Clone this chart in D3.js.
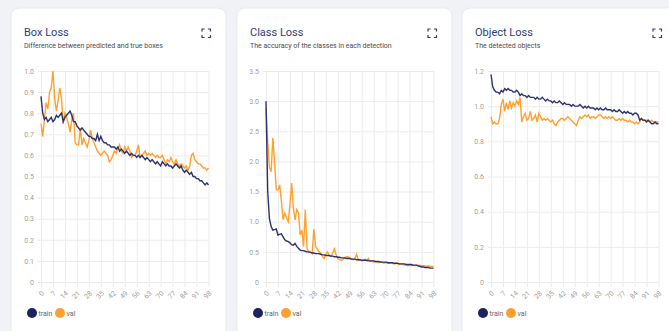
<!DOCTYPE html>
<html>
<head>
<meta charset="utf-8">
<script src="https://cdn.jsdelivr.net/npm/d3@7"></script>
<style>
  body { margin: 0; background: #f1f2f6; font-family: Roboto, "Open Sans", sans-serif; }
</style>
</head>
<body>
<div id="losses"></div>
<script>
// DATA (epochs 0..98)
const xTicks = [0, 7, 14, 21, 28, 35, 42, 49, 56, 63, 70, 77, 84, 91, 98]

const boxTrain = [0.88,0.80,0.77,0.78,0.76,0.77,0.78,0.76,0.77,0.79,
  0.78,0.79,0.80,0.76,0.78,0.79,0.80,0.81,0.79,0.76,
  0.76,0.74,0.73,0.72,0.73,0.72,0.71,0.70,0.69,0.69,
  0.68,0.68,0.67,0.70,0.67,0.69,0.67,0.66,0.66,0.65,
  0.65,0.64,0.64,0.64,0.63,0.64,0.62,0.63,0.62,0.61,
  0.62,0.61,0.60,0.61,0.60,0.60,0.59,0.60,0.59,0.60,
  0.59,0.58,0.59,0.58,0.57,0.58,0.57,0.56,0.57,0.56,
  0.55,0.57,0.56,0.55,0.56,0.55,0.55,0.54,0.55,0.56,
  0.55,0.54,0.55,0.53,0.52,0.53,0.52,0.51,0.52,0.50,
  0.50,0.49,0.49,0.48,0.48,0.47,0.46,0.47,0.46]
const boxVal = [0.75,0.69,0.77,0.85,0.82,0.90,0.92,1.00,0.87,0.81,
  0.86,0.92,0.87,0.75,0.80,0.78,0.75,0.71,0.77,0.80,
  0.66,0.65,0.65,0.73,0.65,0.68,0.66,0.64,0.67,0.72,
  0.68,0.66,0.64,0.62,0.61,0.60,0.61,0.62,0.61,0.60,
  0.57,0.58,0.60,0.62,0.61,0.63,0.65,0.62,0.61,0.64,
  0.62,0.64,0.62,0.59,0.60,0.60,0.62,0.65,0.59,0.60,
  0.61,0.62,0.60,0.61,0.60,0.61,0.60,0.59,0.60,0.59,
  0.59,0.60,0.58,0.56,0.58,0.57,0.59,0.57,0.56,0.58,
  0.56,0.55,0.56,0.55,0.54,0.55,0.53,0.55,0.60,0.61,
  0.58,0.57,0.56,0.56,0.55,0.54,0.54,0.53,0.54]

const classTrain = [3.00,1.50,1.05,0.92,0.86,0.87,0.88,0.78,0.79,0.80,
  0.75,0.70,0.68,0.67,0.65,0.62,0.61,0.64,0.59,0.56,
  0.53,0.52,0.52,0.51,0.50,0.50,0.49,0.48,0.48,0.47,
  0.47,0.47,0.46,0.45,0.45,0.44,0.44,0.44,0.43,0.43,
  0.42,0.42,0.41,0.41,0.40,0.40,0.40,0.39,0.39,0.39,
  0.38,0.38,0.38,0.37,0.37,0.37,0.36,0.36,0.36,0.36,
  0.35,0.35,0.35,0.35,0.34,0.34,0.34,0.33,0.33,0.33,
  0.33,0.32,0.32,0.32,0.32,0.31,0.31,0.31,0.30,0.30,
  0.30,0.30,0.29,0.29,0.29,0.29,0.28,0.28,0.28,0.27,
  0.26,0.25,0.25,0.24,0.24,0.24,0.23,0.23,0.23]
const classVal = [2.88,2.33,1.90,1.83,2.39,2.00,1.53,1.53,1.61,1.34,
  1.03,1.14,1.06,1.00,1.28,1.64,1.23,1.03,1.20,1.15,
  0.78,0.86,0.59,1.20,0.56,0.50,0.50,0.47,0.88,0.59,
  0.55,0.50,0.48,0.42,0.39,0.46,0.50,0.44,0.42,0.48,
  0.55,0.45,0.39,0.37,0.36,0.37,0.40,0.42,0.42,0.40,
  0.38,0.37,0.39,0.46,0.36,0.37,0.35,0.36,0.38,0.35,
  0.39,0.34,0.35,0.33,0.34,0.33,0.32,0.34,0.33,0.31,
  0.32,0.33,0.31,0.32,0.31,0.30,0.31,0.30,0.29,0.30,
  0.29,0.28,0.28,0.27,0.28,0.27,0.28,0.27,0.28,0.27,
  0.28,0.27,0.27,0.27,0.26,0.27,0.26,0.26,0.26]

const objTrain = [1.18,1.11,1.09,1.08,1.08,1.07,1.09,1.08,1.10,1.09,
  1.10,1.09,1.09,1.08,1.08,1.09,1.08,1.06,1.07,1.06,
  1.06,1.05,1.06,1.05,1.05,1.05,1.04,1.05,1.04,1.04,
  1.05,1.04,1.03,1.04,1.03,1.03,1.02,1.03,1.02,1.02,
  1.03,1.02,1.01,1.02,1.01,1.01,1.01,1.00,1.01,1.00,
  1.00,1.00,1.01,1.00,0.99,1.00,0.99,1.00,0.99,0.99,
  0.99,0.98,0.99,0.98,0.99,0.98,0.98,0.99,0.98,0.98,
  0.98,0.97,0.98,0.97,0.97,0.98,0.97,0.96,0.97,0.96,
  0.97,0.96,0.96,0.95,0.96,0.96,0.95,0.92,0.93,0.92,
  0.92,0.91,0.92,0.91,0.90,0.90,0.91,0.90,0.90]
const objVal = [0.94,0.90,0.91,0.90,0.90,0.93,1.01,1.04,0.97,1.02,
  0.98,1.03,0.99,1.02,1.00,1.03,1.01,1.05,0.91,0.94,
  0.96,0.92,0.93,0.97,0.92,0.93,0.95,0.91,0.96,0.94,
  0.92,0.93,0.92,0.93,0.92,0.91,0.92,0.90,0.89,0.91,
  0.92,0.93,0.93,0.92,0.93,0.94,0.93,0.92,0.91,0.90,
  0.89,0.92,0.94,0.93,0.94,0.95,0.94,0.95,0.93,0.94,
  0.94,0.93,0.94,0.95,0.95,0.94,0.93,0.94,0.93,0.94,
  0.93,0.94,0.93,0.92,0.92,0.93,0.92,0.93,0.92,0.92,
  0.91,0.92,0.91,0.91,0.90,0.91,0.90,0.91,0.93,0.92,
  0.92,0.92,0.92,0.91,0.92,0.91,0.91,0.91,0.91]

const boxTicks = [0, 0.1, 0.2, 0.3, 0.4, 0.5, 0.6, 0.7, 0.8, 0.9, 1.0]
const classTicks = [0, 0.5, 1.0, 1.5, 2.0, 2.5, 3.0, 3.5]
const objTicks = [0, 0.2, 0.4, 0.6, 0.8, 1.0, 1.2]

const legendData = ["train", "val"]
const color = d3.scaleOrdinal()
  .domain(legendData)
  .range(["#2b3170", "#ffa02e"])

// PANELS
const panels = [
  {title: "Box Loss", sub: "Difference between predicted and true boxes",
   train: boxTrain, val: boxVal, ticks: boxTicks, max: 1.0, card: 11, left: 41},
  {title: "Class Loss", sub: "The accuracy of the classes in each detection",
   train: classTrain, val: classVal, ticks: classTicks, max: 3.5, card: 237, left: 266},
  {title: "Object Loss", sub: "The detected objects",
   train: objTrain, val: objVal, ticks: objTicks, max: 1.2, card: 462, left: 491}
]

const width = 669, height = 331
const plotW = 167.5, plotTop = 71, plotBottom = 282

const svg = d3.select("#losses")
  .append("svg")
    .attr("width", width)
    .attr("height", height)

panels.forEach(function(p) {
  const g = svg.append("g")

  // CARD
  g.append("rect")
    .attr("x", p.card)
    .attr("y", 8)
    .attr("width", 215)
    .attr("height", 345)
    .attr("rx", 8)
    .attr("fill", "white")
    .attr("stroke", "#e8e9ef")

  g.append("text")
    .attr("x", p.card + 13)
    .attr("y", 36)
    .text(p.title)
    .attr("font-size", "11")
    .attr("fill", "#2f3b78")

  g.append("text")
    .attr("x", p.card + 13)
    .attr("y", 47.5)
    .text(p.sub)
    .attr("font-size", "7")
    .attr("fill", "#4a4a4a")

  // EXPAND ICON
  const ix = p.card + 191, iy = 29, s = 8.5, c = 2.6
  g.append("path")
    .attr("d", `M${ix},${iy+c}V${iy}H${ix+c} M${ix+s-c},${iy}H${ix+s}V${iy+c}` +
               ` M${ix+s},${iy+s-c}V${iy+s}H${ix+s-c} M${ix+c},${iy+s}H${ix}V${iy+s-c}`)
    .attr("fill", "none")
    .attr("stroke", "#2f3b78")
    .attr("stroke-width", 1.2)

  // SCALES
  const xScale = d3.scaleLinear()
    .domain([0, 98])
    .range([p.left, p.left + plotW])
  const yScale = d3.scaleLinear()
    .domain([0, p.max])
    .range([plotBottom, plotTop])

  // AXES + GRID
  const yAx = g.append("g")
    .attr("transform", `translate(${p.left - 3},0)`)
    .call(d3.axisLeft(yScale)
      .tickValues(p.ticks)
      .tickSize(-(plotW + 3))
      .tickPadding(4)
      .tickFormat(d => d === 0 ? "0" : d3.format(".1f")(d)))
  yAx.select(".domain").remove()
  yAx.selectAll(".tick line").attr("stroke", "#ebebeb")
  yAx.selectAll("text").attr("font-size", "7").attr("fill", "#a0a0a0").attr("font-family", "Roboto")

  const xAx = g.append("g")
    .attr("transform", `translate(0,${plotBottom + 5})`)
    .call(d3.axisBottom(xScale)
      .tickValues(xTicks)
      .tickSize(-(plotBottom + 5 - plotTop)))
  xAx.select(".domain").remove()
  xAx.selectAll(".tick line").attr("stroke", "#ebebeb")
  xAx.selectAll("text")
    .attr("x", 0)
    .attr("y", 0)
    .attr("dy", "0.35em")
    .attr("transform", "translate(1.4,5) rotate(-45)")
    .style("text-anchor", "end")
    .attr("font-size", "7")
    .attr("fill", "#a0a0a0")
    .attr("font-family", "Roboto")

  // LINES (val under train)
  const line = d3.line()
    .x((d, i) => xScale(i))
    .y(d => yScale(d))

  g.append("path")
    .datum(p.val)
    .attr("d", line)
    .attr("fill", "none")
    .attr("stroke", color("val"))
    .attr("stroke-width", 1.4)

  g.append("path")
    .datum(p.train)
    .attr("d", line)
    .attr("fill", "none")
    .attr("stroke", color("train"))
    .attr("stroke-width", 1.4)

  // LEGEND
  g.selectAll("legendDots")
    .data(legendData)
    .enter()
    .append("circle")
      .attr("cx", (d, i) => p.card + 21 + i * 28)
      .attr("cy", 313)
      .attr("r", 5)
      .attr("fill", d => d === "train" ? "#1c2160" : "#ffa02e")

  g.selectAll("legendLabels")
    .data(legendData)
    .enter()
    .append("text")
      .attr("x", (d, i) => p.card + 27.5 + i * 28)
      .attr("y", 315.5)
      .text(d => d)
      .attr("font-size", "7")
      .attr("fill", "#666")
})
</script>
</body>
</html>
